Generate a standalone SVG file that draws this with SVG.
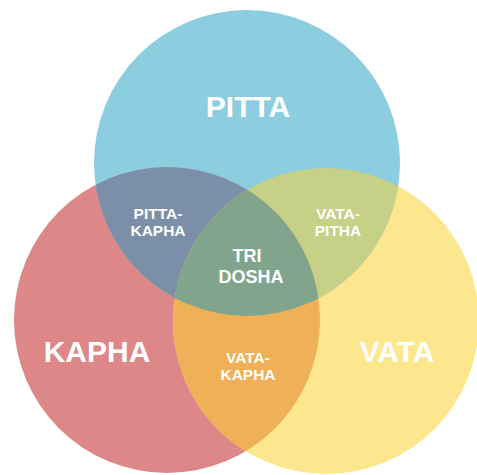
<svg xmlns="http://www.w3.org/2000/svg" width="477" height="475" viewBox="0 0 477 475">
<style>
text{font-family:"Liberation Sans",Arial,sans-serif;font-weight:bold;fill:#ffffff;text-anchor:middle}
.big{font-size:30px}
.mid{font-size:18px}
.sm{font-size:15.5px}
</style>
<defs>
<clipPath id="cP"><circle cx="247" cy="163" r="153"/></clipPath>
<clipPath id="cK"><circle cx="167" cy="320" r="153"/></clipPath>
<clipPath id="cV"><circle cx="326" cy="321" r="153"/></clipPath>
</defs>
<rect width="477" height="475" fill="#ffffff"/>
<g id="kapha">
<circle cx="167" cy="320" r="153" fill="#de8789"/>
</g>
<g id="vata">
<circle cx="326" cy="321" r="153" fill="#fde78e"/>
</g>
<g id="pitta">
<circle cx="247" cy="163" r="153" fill="#8ccde0"/>
</g>
<g id="pitta-kapha">
<circle cx="247" cy="163" r="153" fill="#7c8fa8" clip-path="url(#cK)"/>
</g>
<g id="vata-pitha">
<circle cx="247" cy="163" r="153" fill="#c6d086" clip-path="url(#cV)"/>
</g>
<g id="vata-kapha">
<circle cx="167" cy="320" r="153" fill="#f0b057" clip-path="url(#cV)"/>
</g>
<g id="tri-dosha">
<g clip-path="url(#cV)">
<circle cx="247" cy="163" r="153" fill="#80a58c" clip-path="url(#cK)"/>
</g>
</g>
<g id="labels">
<text class="big" x="248" y="117">PITTA</text>
<text class="big" x="97" y="362">KAPHA</text>
<text class="big" x="397" y="362">VATA</text>
<text class="sm" x="158" y="219">PITTA-</text>
<text class="sm" x="158" y="236">KAPHA</text>
<text class="sm" x="338" y="219">VATA-</text>
<text class="sm" x="338" y="236">PITHA</text>
<text class="mid" x="247" y="262">TRI</text>
<text class="mid" x="251" y="283">DOSHA</text>
<text class="sm" x="248" y="363">VATA-</text>
<text class="sm" x="248" y="380">KAPHA</text>
</g>
<g id="connectors"></g>
</svg>
